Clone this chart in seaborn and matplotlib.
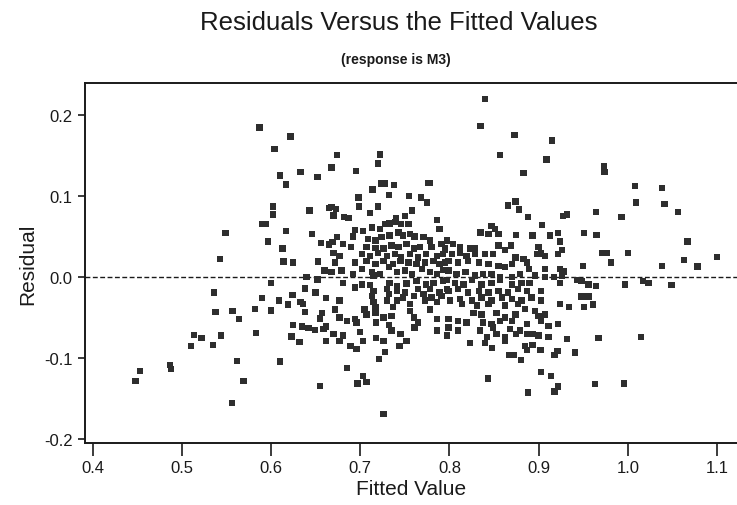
import matplotlib
matplotlib.use("Agg")
import matplotlib.pyplot as plt
import seaborn as sns
import pandas as pd

# ---- data (fitted value, residual) ----
fit_sparse = [0.549, 0.543,
    0.587, 0.622, 0.604, 0.674, 0.722, 0.720, 0.668, 0.695, 0.633, 0.610, 0.652, 0.617,
    0.723, 0.728, 0.738, 0.714, 0.602, 0.602, 0.643, 0.665, 0.590, 0.594, 0.617, 0.646,
    0.597, 0.613, 0.656, 0.665, 0.614, 0.625, 0.653,
    0.840, 0.835, 0.873, 0.915, 0.857, 0.909, 0.883, 0.776, 0.778, 0.932,
    0.973, 0.974, 1.008, 1.038, 1.009, 1.041, 0.964, 0.993, 1.056, 0.951, 0.965, 1.067,
    0.971, 0.977, 1.000, 1.100, 1.063, 0.981,
    0.950, 1.038, 1.078, 0.943, 0.948, 0.956, 0.964, 0.997, 1.017, 1.023, 1.049, 0.948,
    0.956, 0.951, 0.961, 0.967, 1.015, 0.941, 0.963, 0.996,
    0.536, 0.538, 0.557, 0.564, 0.514, 0.522, 0.544, 0.510, 0.535, 0.487, 0.488, 0.453,
    0.448, 0.562, 0.569, 0.556,
    0.660, 0.640, 0.652, 0.600, 0.638, 0.650, 0.590, 0.609, 0.624, 0.619, 0.633, 0.636,
    0.662, 0.582, 0.600, 0.638, 0.657, 0.655, 0.625, 0.635, 0.642, 0.649, 0.659, 0.662,
    0.583, 0.623, 0.632, 0.662, 0.689, 0.696, 0.610, 0.685, 0.655, 0.703, 0.707, 0.697,
    0.726, 0.721, 0.728, 0.744,
    0.848, 0.867, 0.872, 0.880, 0.885, 0.887, 0.893, 0.902, 0.921, 0.918, 0.903, 0.914,
    0.843, 0.888, 0.922, 0.918, 0.928, 0.934, 0.932]
res_sparse = [0.054, 0.022,
    0.184, 0.173, 0.158, 0.150, 0.151, 0.140, 0.135, 0.131, 0.129, 0.125, 0.123, 0.114,
    0.115, 0.115, 0.113, 0.108, 0.087, 0.077, 0.082, 0.085, 0.065, 0.065, 0.057, 0.053,
    0.044, 0.035, 0.042, 0.040, 0.019, 0.018, 0.019,
    0.219, 0.186, 0.175, 0.168, 0.150, 0.145, 0.128, 0.116, 0.116, 0.077,
    0.137, 0.129, 0.112, 0.110, 0.092, 0.090, 0.080, 0.074, 0.080, 0.054, 0.052, 0.044,
    0.030, 0.030, 0.030, 0.025, 0.021, 0.018,
    0.014, 0.014, 0.013, -0.004, -0.005, -0.009, -0.011, -0.009, -0.005, -0.007, -0.010, -0.024,
    -0.024, -0.037, -0.034, -0.075, -0.074, -0.093, -0.132, -0.131,
    -0.019, -0.043, -0.042, -0.052, -0.071, -0.075, -0.072, -0.085, -0.084, -0.108, -0.113, -0.116,
    -0.128, -0.103, -0.128, -0.155,
    0.008, -0.000, -0.003, -0.007, -0.014, -0.019, -0.026, -0.029, -0.022, -0.034, -0.031, -0.033,
    -0.026, -0.039, -0.041, -0.043, -0.044, -0.051, -0.059, -0.061, -0.063, -0.065, -0.064, -0.061,
    -0.069, -0.073, -0.080, -0.079, -0.085, -0.089, -0.104, -0.112, -0.134, -0.122, -0.129, -0.131,
    -0.169, -0.101, -0.092, -0.085,
    -0.087, -0.096, -0.096, -0.102, -0.085, -0.090, -0.084, -0.090, -0.091, -0.096, -0.117, -0.122,
    -0.125, -0.142, -0.135, -0.141, 0.007, -0.037, -0.076]

fit_core_a = [0.698, 0.732, 0.755, 0.768, 0.775, 0.668, 0.673, 0.699, 0.720, 0.711, 0.682, 0.687,
    0.670, 0.740, 0.750, 0.758, 0.786, 0.728, 0.733, 0.739, 0.746, 0.754, 0.713, 0.722,
    0.694, 0.703, 0.789, 0.733, 0.743, 0.748, 0.756, 0.761, 0.692, 0.674, 0.709, 0.717,
    0.724, 0.771, 0.778, 0.669, 0.681, 0.690, 0.707, 0.717, 0.726, 0.735, 0.743, 0.752,
    0.760, 0.767, 0.780, 0.791, 0.795, 0.670, 0.677, 0.702, 0.711, 0.720, 0.730, 0.739,
    0.746, 0.756, 0.765, 0.774, 0.786, 0.793, 0.672, 0.694, 0.707, 0.717, 0.726, 0.737,
    0.745, 0.754, 0.763, 0.773, 0.782, 0.789, 0.795, 0.668, 0.679, 0.702, 0.713, 0.722,
    0.732, 0.741, 0.750, 0.758, 0.769, 0.778, 0.786, 0.793, 0.692, 0.715,
    0.681, 0.702, 0.711, 0.733, 0.741, 0.752, 0.763, 0.774, 0.782, 0.793, 0.694, 0.715,
    0.730, 0.741, 0.750, 0.765, 0.778, 0.789, 0.797, 0.713, 0.732, 0.748, 0.760, 0.771,
    0.780, 0.791, 0.677, 0.715, 0.730, 0.741, 0.756, 0.773, 0.786, 0.672, 0.705, 0.717,
    0.737, 0.756, 0.778, 0.677, 0.685, 0.694, 0.707, 0.717, 0.726, 0.735, 0.760, 0.786,
    0.696, 0.718, 0.732, 0.765, 0.670, 0.681, 0.700, 0.718, 0.735, 0.745, 0.761, 0.786,
    0.797, 0.677, 0.703, 0.726, 0.752]
res_core_a = [0.098, 0.101, 0.100, 0.098, 0.092, 0.086, 0.084, 0.087, 0.087, 0.079, 0.074, 0.073,
    0.076, 0.072, 0.075, 0.082, 0.070, 0.065, 0.066, 0.068, 0.065, 0.065, 0.061, 0.059,
    0.058, 0.057, 0.059, 0.051, 0.055, 0.051, 0.053, 0.050, 0.050, 0.049, 0.047, 0.045,
    0.049, 0.049, 0.045, 0.043, 0.041, 0.037, 0.037, 0.036, 0.035, 0.039, 0.037, 0.041,
    0.035, 0.037, 0.037, 0.041, 0.035, 0.030, 0.026, 0.028, 0.026, 0.030, 0.026, 0.028,
    0.024, 0.028, 0.024, 0.028, 0.026, 0.028, 0.018, 0.018, 0.020, 0.016, 0.020, 0.016,
    0.020, 0.018, 0.016, 0.018, 0.020, 0.016, 0.018, 0.006, 0.008, 0.010, 0.006, 0.004,
    0.012, 0.006, 0.008, 0.004, 0.010, 0.006, 0.004, 0.009, 0.004, 0.002,
    -0.007, -0.009, -0.010, -0.007, -0.011, -0.008, -0.005, -0.009, -0.007, -0.005, -0.013, -0.017,
    -0.015, -0.017, -0.019, -0.015, -0.015, -0.019, -0.015, -0.023, -0.021, -0.025, -0.023, -0.021,
    -0.025, -0.023, -0.029, -0.031, -0.029, -0.029, -0.033, -0.029, -0.031, -0.040, -0.040, -0.037,
    -0.037, -0.042, -0.040, -0.050, -0.054, -0.052, -0.046, -0.044, -0.050, -0.048, -0.050, -0.052,
    -0.056, -0.056, -0.059, -0.056, -0.070, -0.072, -0.068, -0.075, -0.066, -0.070, -0.062, -0.066,
    -0.072, -0.079, -0.079, -0.079, -0.079]

fit_core_b = [0.874, 0.866, 0.878, 0.888, 0.927, 0.904, 0.847, 0.851, 0.835, 0.844, 0.855, 0.875,
    0.893, 0.913, 0.922, 0.924, 0.797, 0.804, 0.812, 0.823, 0.829, 0.855, 0.869, 0.862,
    0.900, 0.898, 0.903, 0.907, 0.922, 0.926, 0.795, 0.803, 0.812, 0.819, 0.829, 0.840,
    0.849, 0.874, 0.883, 0.887, 0.870, 0.799, 0.810, 0.821, 0.833, 0.844, 0.855, 0.862,
    0.889, 0.907, 0.924, 0.799, 0.808, 0.818, 0.829, 0.838, 0.847, 0.857, 0.870, 0.879,
    0.896, 0.907, 0.917, 0.926, 0.797, 0.806, 0.816, 0.825, 0.836, 0.847, 0.857, 0.870,
    0.881, 0.890, 0.903, 0.924, 0.799, 0.810, 0.821, 0.833, 0.844, 0.855, 0.866, 0.877,
    0.887, 0.801, 0.812, 0.825, 0.836, 0.847, 0.859, 0.870, 0.881, 0.892, 0.903, 0.814,
    0.831, 0.844, 0.862, 0.877, 0.885, 0.896, 0.924, 0.799, 0.810, 0.827, 0.836, 0.853,
    0.862, 0.874, 0.900, 0.907, 0.819, 0.838, 0.847, 0.857, 0.870, 0.887, 0.903, 0.911,
    0.922, 0.799, 0.810, 0.834, 0.849, 0.868, 0.879, 0.894, 0.842, 0.853, 0.862, 0.875,
    0.887, 0.900, 0.911, 0.823, 0.840, 0.862]
res_core_b = [0.093, 0.088, 0.083, 0.074, 0.075, 0.064, 0.063, 0.059, 0.055, 0.053, 0.053, 0.052,
    0.051, 0.051, 0.054, 0.044, 0.045, 0.041, 0.037, 0.035, 0.035, 0.039, 0.039, 0.033,
    0.037, 0.028, 0.029, 0.026, 0.028, 0.033, 0.033, 0.028, 0.030, 0.026, 0.028, 0.028,
    0.028, 0.024, 0.022, 0.018, 0.016, 0.020, 0.018, 0.020, 0.018, 0.016, 0.014, 0.012,
    0.010, 0.010, 0.010, 0.008, 0.004, 0.006, 0.002, 0.004, 0.004, -0.000, -0.000, 0.004,
    0.002, -0.000, 0.000, 0.002, -0.004, -0.007, -0.009, -0.004, -0.009, -0.007, -0.004, -0.009,
    -0.007, -0.007, -0.017, -0.007, -0.017, -0.015, -0.019, -0.017, -0.019, -0.017, -0.019, -0.015,
    -0.017, -0.029, -0.027, -0.029, -0.025, -0.029, -0.025, -0.027, -0.029, -0.025, -0.029, -0.033,
    -0.035, -0.033, -0.035, -0.033, -0.039, -0.042, -0.033, -0.052, -0.054, -0.044, -0.046, -0.044,
    -0.050, -0.046, -0.048, -0.046, -0.056, -0.056, -0.058, -0.054, -0.054, -0.058, -0.054, -0.060,
    -0.058, -0.062, -0.066, -0.066, -0.062, -0.064, -0.066, -0.070, -0.074, -0.070, -0.074, -0.070,
    -0.070, -0.072, -0.074, -0.081, -0.081, -0.079]

x_ticks = [0.4, 0.5, 0.6, 0.7, 0.8, 0.9, 1.0, 1.1]
y_ticks = [0.2, 0.1, 0.0, -0.1, -0.2]
y_tick_labels = ["0.2", "0.1", "0.0", "-0.1", "-0.2"]

df = pd.DataFrame({
    "Fitted Value": fit_sparse + fit_core_a + fit_core_b,
    "Residual": res_sparse + res_core_a + res_core_b,
})

sns.set_theme(style="white")
plt.rcParams["font.family"] = ["Liberation Sans", "DejaVu Sans"]

fig = plt.figure(figsize=(7.37, 5.06), dpi=100)
ax = fig.add_axes([0.1153, 0.1225, 0.8847, 0.7115])

ax.axhline(0.0, color="#1a1a1a", linestyle=(0, (3.5, 1.8)), linewidth=1.0, zorder=1)
sns.scatterplot(data=df, x="Fitted Value", y="Residual", marker="s", s=21,
                color="#2e2e2e", edgecolor="none", linewidth=0, ax=ax, zorder=2)

ax.set_xlim(0.3915, 1.1224)
ax.set_ylim(-0.2044, 0.239)
ax.set_xticks(x_ticks)
ax.set_xticklabels([f"{v:.1f}" for v in x_ticks])
ax.set_yticks(y_ticks)
ax.set_yticklabels(y_tick_labels)

for side in ["left", "top", "bottom"]:
    ax.spines[side].set_color("#1a1a1a")
    ax.spines[side].set_linewidth(1.4)
ax.spines["right"].set_visible(False)

ax.tick_params(axis="x", direction="out", length=9, width=1.2, color="#1a1a1a",
               labelsize=12, pad=3, bottom=True, labelcolor="#1a1a1a")
ax.tick_params(axis="y", direction="out", length=5, width=1.2, color="#1a1a1a",
               labelsize=12, pad=4, left=True, labelcolor="#1a1a1a")

ax.set_xlabel("Fitted Value", fontsize=15, labelpad=3, color="#1a1a1a")
ax.set_ylabel("Residual", fontsize=15, labelpad=5, color="#1a1a1a")

fig.text(0.541, 0.955, "Residuals Versus the Fitted Values", ha="center", va="center",
         fontsize=18.5, color="#1a1a1a")
fig.text(0.537, 0.882, "(response is M3)", ha="center", va="center",
         fontsize=10, fontweight="bold", color="#1a1a1a")

fig.savefig("out.png", dpi=100)
